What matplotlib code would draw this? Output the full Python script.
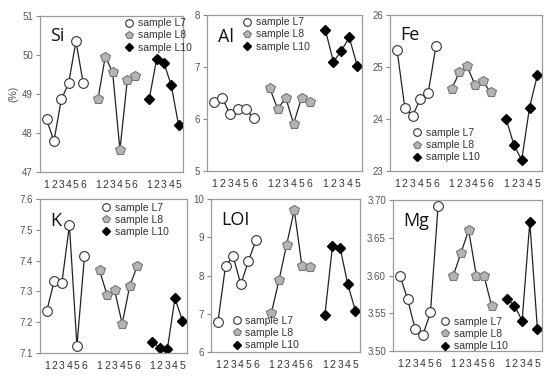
"""
Element content of samples L7, L8 and L10 (six panels).
"""

import numpy as np
import matplotlib
matplotlib.use('Agg')
import matplotlib.pyplot as plt
from matplotlib.ticker import FormatStrFormatter

plt.rcParams['font.family'] = ['Liberation Sans', 'DejaVu Sans']

# x positions of the three sample groups along each panel
pos_l7 = [1, 2, 3, 4, 5, 6]
pos_l8 = [8, 9, 10, 11, 12, 13]
pos_l10 = [15, 16, 17, 18, 19]
tick_pos = pos_l7 + pos_l8 + pos_l10
tick_labels = ['1', '2', '3', '4', '5', '6'] * 2 + ['1', '2', '3', '4', '5']

si_l7 = [48.35, 47.79, 48.86, 49.27, 50.35, 49.27]
si_l8 = [48.86, 49.96, 49.56, 47.57, 49.35, 49.46]
si_l10 = [48.88, 49.89, 49.80, 49.22, 48.20]

al_l7 = [6.32, 6.41, 6.09, 6.19, 6.19, 6.01]
al_l8 = [6.59, 6.19, 6.41, 5.91, 6.41, 6.33]
al_l10 = [7.71, 7.10, 7.31, 7.57, 7.02]

fe_l7 = [25.33, 24.22, 24.06, 24.39, 24.50, 25.41]
fe_l8 = [24.57, 24.90, 25.01, 24.66, 24.73, 24.51]
fe_l10 = [24.00, 23.50, 23.21, 24.22, 24.84]

k_l7 = [7.237, 7.335, 7.327, 7.515, 7.123, 7.414]
k_l8 = [7.368, 7.288, 7.303, 7.195, 7.317, 7.382]
k_l10 = [7.136, 7.116, 7.114, 7.277, 7.205]

loi_l7 = [6.78, 8.25, 8.50, 7.77, 8.38, 8.93]
loi_l8 = [7.02, 7.88, 8.81, 9.71, 8.25, 8.23]
loi_l10 = [6.96, 8.77, 8.72, 7.77, 7.08]

mg_l7 = [3.600, 3.569, 3.529, 3.521, 3.551, 3.692]
mg_l8 = [3.600, 3.630, 3.660, 3.600, 3.600, 3.560]
mg_l10 = [3.569, 3.560, 3.540, 3.671, 3.529]

fig = plt.figure(figsize=(5.5, 3.79), dpi=100)
W, H = 550.0, 379.0


def add_panel(left, right, top, bottom):
    return fig.add_axes([left / W, 1 - bottom / H, (right - left) / W, (bottom - top) / H])


def draw_panel(ax, name, l7, l8, l10, ylim, yticks, fmt, title_xy, leg_xy):
    for p, v in [(pos_l7, l7), (pos_l8, l8), (pos_l10, l10)]:
        ax.plot(p, v, color='#222222', lw=0.9, zorder=1)
    ax.plot(pos_l7, l7, ls='none', marker='o', ms=7, mfc='white', mec='#333333',
            mew=0.8, label='sample L7', zorder=2)
    ax.plot(pos_l8, l8, ls='none', marker='p', ms=7.5, mfc='#b4b4b4', mec='#777777',
            mew=0.8, label='sample L8', zorder=2)
    ax.plot(pos_l10, l10, ls='none', marker='D', ms=5.5, mfc='black', mec='black',
            label='sample L10', zorder=2)

    ax.set_xlim(0.1, 19.6)
    ax.set_ylim(*ylim)
    ax.set_yticks(yticks)
    ax.yaxis.set_major_formatter(FormatStrFormatter(fmt))
    ax.set_xticks(tick_pos)
    ax.set_xticklabels(tick_labels)
    ax.tick_params(axis='x', length=0, pad=6, labelsize=7.5, labelcolor='#333333')
    ax.tick_params(axis='y', length=3, width=0.8, color='#888888', direction='out',
                   labelsize=7, labelcolor='#555555', pad=2)
    for s in ax.spines.values():
        s.set_color('#9a9a9a')
        s.set_linewidth(0.9)

    ax.text(title_xy[0], title_xy[1], name, transform=ax.transAxes, fontsize=13,
            family=['Open Sans', 'DejaVu Sans'], color='#111111', va='center', ha='left')

    markers = ax.get_lines()[3:]
    marker_sizes = [5.5, 6.0, 4.5]
    leg = ax.legend(handles=markers, loc='upper left', bbox_to_anchor=leg_xy, frameon=False,
                    fontsize=7.5, handlelength=0.9, handletextpad=0.4, labelspacing=0.2,
                    borderpad=0, borderaxespad=0, labelcolor='#333333')
    for h, ms in zip(leg.legend_handles, marker_sizes):
        h.set_markersize(ms)


ax_si = add_panel(40, 183, 16, 172)
draw_panel(ax_si, 'Si', si_l7, si_l8, si_l10, (47, 51), [47, 48, 49, 50, 51], '%d',
           (0.07, 0.87), (0.59, 0.985))
ax_si.set_ylabel('(%)', fontsize=7.5, color='#555555', labelpad=3)

ax_al = add_panel(207, 362, 15, 171)
draw_panel(ax_al, 'Al', al_l7, al_l8, al_l10, (5, 8), [5, 6, 7, 8], '%d',
           (0.07, 0.86), (0.23, 0.985))

ax_fe = add_panel(390, 542, 15, 171)
draw_panel(ax_fe, 'Fe', fe_l7, fe_l8, fe_l10, (23, 26), [23, 24, 25, 26], '%d',
           (0.07, 0.87), (0.15, 0.275))

ax_k = add_panel(40, 187, 199, 353)
draw_panel(ax_k, 'K', k_l7, k_l8, k_l10, (7.1, 7.6), [7.1, 7.2, 7.3, 7.4, 7.5, 7.6], '%.1f',
           (0.07, 0.86), (0.42, 0.975))

ax_loi = add_panel(211, 360, 199, 352)
draw_panel(ax_loi, 'LOI', loi_l7, loi_l8, loi_l10, (6, 10), [6, 7, 8, 9, 10], '%d',
           (0.07, 0.86), (0.14, 0.235))

ax_mg = add_panel(393, 542, 200, 351)
draw_panel(ax_mg, 'Mg', mg_l7, mg_l8, mg_l10, (3.50, 3.70), [3.50, 3.55, 3.60, 3.65, 3.70],
           '%.2f', (0.07, 0.86), (0.32, 0.225))

fig.savefig('out.png', dpi=100)
